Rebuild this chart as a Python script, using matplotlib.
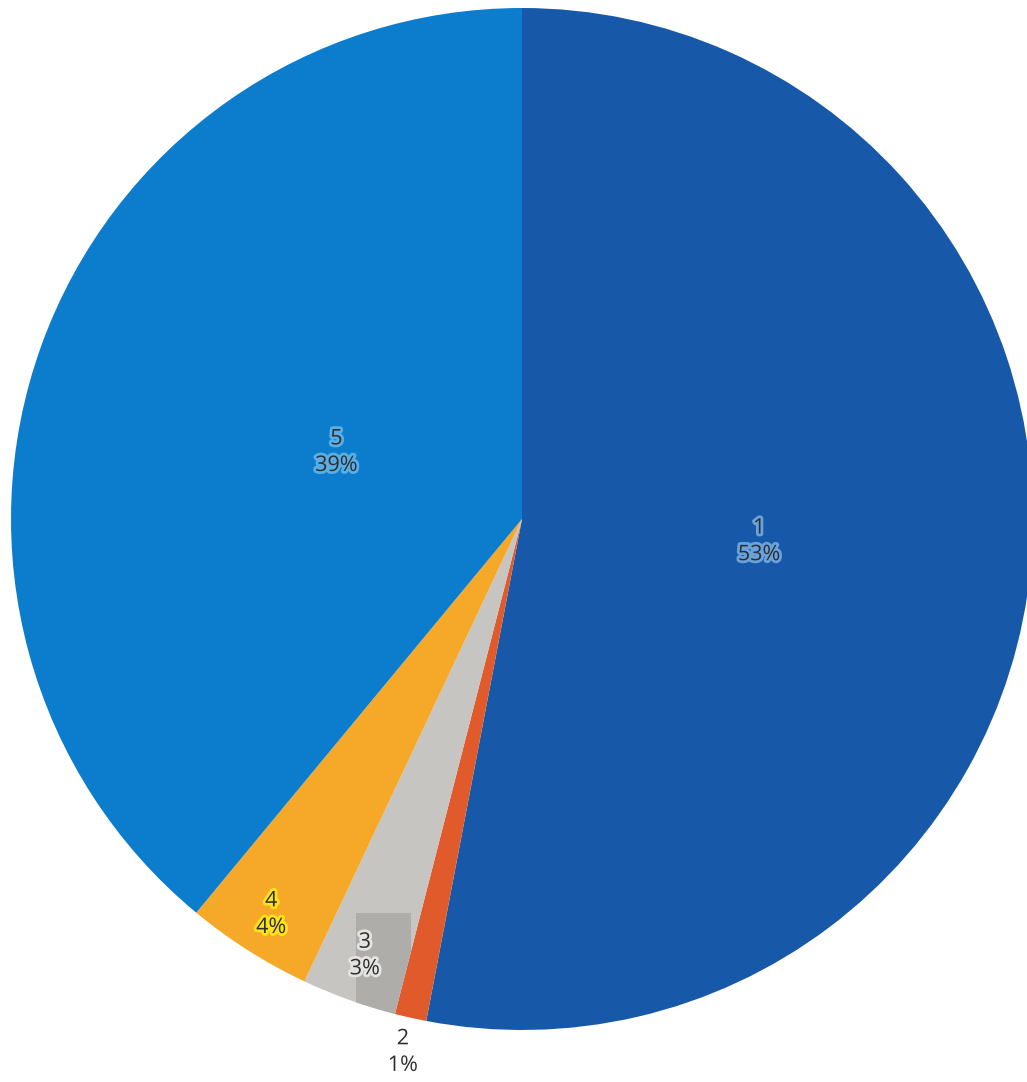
import matplotlib
matplotlib.use("Agg")
import matplotlib.pyplot as plt
import matplotlib.patheffects as pe
import numpy as np

labels = ["1", "2", "3", "4", "5"]
shares = [53, 1, 3, 4, 39]
colors = ["#1759a8", "#e05a2b", "#c6c5c1", "#f6a828", "#0b7dcc"]
glow = ["#6aa2dc", "white", "#e4e4e2", "#ffe21a", "#5aaee6"]
label_dist = [0.466, 1.069, 0.908, 0.916, 0.386]

fig = plt.figure(figsize=(10.27, 10.82), dpi=100)
# pie centre at about (522, 519) px, radius 511 px
ax = fig.add_axes([11 / 1027, 52 / 1082, 1022 / 1027, 1022 / 1082])

wedges, _ = ax.pie(shares, colors=colors, startangle=90, counterclock=False,
                   radius=1, wedgeprops=dict(linewidth=0))
ax.set_xlim(-1, 1)
ax.set_ylim(-1, 1)
ax.set_aspect("equal")
ax.axis("off")

for i, w in enumerate(wedges):
    mid = np.deg2rad((w.theta1 + w.theta2) / 2)
    x = label_dist[i] * np.cos(mid)
    y = label_dist[i] * np.sin(mid)
    if labels[i] == "3":
        # darker grey box behind the label, clipped to the slice
        box = plt.Rectangle((x - 0.018, y - 0.15), 0.108, 0.234,
                            facecolor="#aeada9", edgecolor="none", zorder=2)
        ax.add_patch(box)
        box.set_clip_path(w)
    ax.text(x, y, f"{labels[i]}\n{shares[i]}%", ha="center", va="center",
            fontsize=15.5, color="#2e2e2e", linespacing=1.35,
            family=["Open Sans", "DejaVu Sans"], zorder=3, clip_on=False,
            path_effects=[pe.withStroke(linewidth=4, foreground=glow[i])])

fig.savefig("out.png", dpi=100)
